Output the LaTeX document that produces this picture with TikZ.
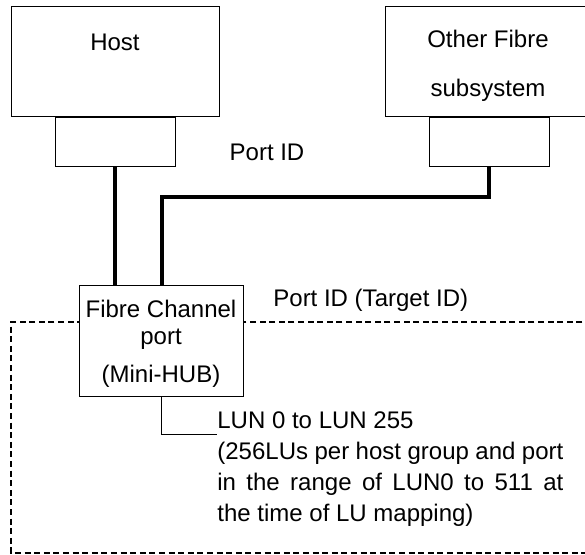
\documentclass[tikz,border=0pt]{standalone}
\usepackage{fontspec}
\setmainfont{Liberation Sans}
\usetikzlibrary{positioning}

\begin{document}
\begin{tikzpicture}[
    x=0.5pt, y=-0.5pt,
    node distance=0pt,
    box/.style={
      draw, line width=0.5pt, fill=white, inner sep=0pt
    },
    lbl/.style={
      font=\fontsize{12}{14}\selectfont, inner sep=0pt, align=center
    },
    cable/.style={line width=2pt},
    zone/.style={line width=0.75pt, dash pattern=on 3pt off 1.8pt}
  ]
    \useasboundingbox (0,0) rectangle (585,554);
    \clip (0,0) rectangle (585,554);

    % devices at the top
    \node[box, minimum width=104pt, minimum height=55pt] (host) at (115,61) {};
    \node[box, minimum width=60pt, minimum height=24.5pt, below=of host] (hostport) {};
    \node[box, minimum width=104pt, minimum height=55pt] (other) at (489,61) {};
    \node[box, minimum width=60pt, minimum height=24.5pt, below=of other] (otherport) {};
    \node[lbl] (hostlbl) at (115,42) {Host};
    \node[lbl] (otherlbl) at (488,66) {Other Fibre\\[10.5pt]subsystem};

    % subsystem area
    \coordinate (zonetr) at (592,322);
    \coordinate (zonebr) at (592,553);
    \draw[zone] (zonetr) -- (11,322) -- (11,553) -- (zonebr);

    \node[box, minimum width=82pt, minimum height=55.5pt] (fc) at (161,340.5) {};
    \node[lbl, font=\fontsize{12}{13.5}\selectfont] (fclbl) at (161,344)
      {Fibre Channel\\port\\[5.5pt](Mini-HUB)};

    % cables
    \coordinate (bend) at (162,197);
    \draw[cable] (hostport.south) -- (hostport.south |- fc.north);
    \draw[cable] (otherport.south) |- (bend) -- (bend |- fc.north);

    \node[lbl] (portid) at (267,152) {Port ID};
    \node[lbl, anchor=west] (targetid) at (273,300) {Port ID (Target ID)};

    % LUN range
    \coordinate (lunknee) at (161,434);
    \node[lbl, anchor=north west, text width=173pt, align=justify,
          font=\fontsize{12}{15.5}\selectfont] (lun) at (217,411)
      {LUN 0 to LUN 255\\(256LUs per host group and port\linebreak
       in the range of LUN0 to 511 at\linebreak the time of LU mapping)};
    \draw[line width=0.5pt] (lunknee |- fc.south) -- (lunknee) -- (lunknee -| lun.west);
  \end{tikzpicture}
\end{document}
